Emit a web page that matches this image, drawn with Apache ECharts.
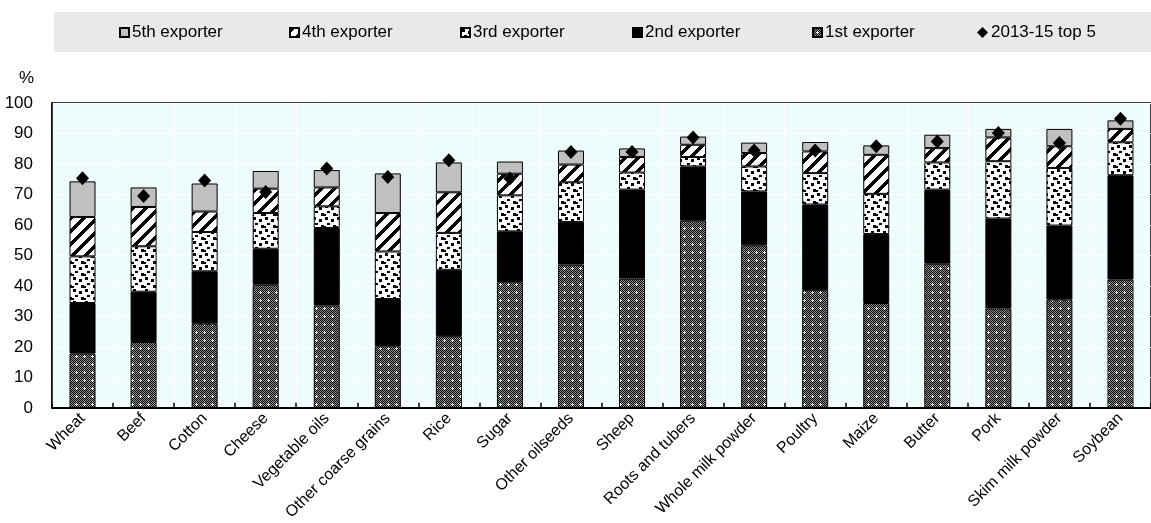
<!DOCTYPE html>
<html>
<head>
<meta charset="utf-8">
<script src="https://cdn.jsdelivr.net/npm/echarts@6/dist/echarts.min.js"></script>
<style>
  html, body { margin: 0; padding: 0; background: #ffffff; }
  #chart { width: 1151px; height: 523px; }
</style>
</head>
<body>
<div id="chart"></div>
<script>
// Commodities, ordered by the share of the top five exporters
const categories = ['Wheat', 'Beef', 'Cotton', 'Cheese', 'Vegetable oils', 'Other coarse grains',
  'Rice', 'Sugar', 'Other oilseeds', 'Sheep', 'Roots and tubers', 'Whole milk powder',
  'Poultry', 'Maize', 'Butter', 'Pork', 'Skim milk powder', 'Soybean'];

// Share of world exports held by each of the five largest exporters (%)
const exporter1 = [17.8, 21.6, 27.6, 40.4, 33.6, 20.2, 23.5, 41.2, 47.0, 42.4, 61.4, 53.3, 38.6, 34.4, 47.3, 32.6, 35.5, 42.1];
const exporter2 = [16.6, 16.5, 17.2, 11.8, 25.4, 15.5, 21.8, 16.7, 14.0, 29.2, 17.8, 17.7, 28.1, 22.6, 24.3, 29.5, 24.3, 34.2];
const exporter3 = [15.3, 14.9, 12.9, 11.7, 7.1, 15.6, 12.1, 11.8, 13.0, 5.6, 3.1, 8.2, 10.3, 13.2, 8.9, 18.8, 18.9, 10.8];
const exporter4 = [12.9, 12.9, 6.7, 8.0, 6.2, 12.6, 13.3, 7.1, 5.8, 5.1, 4.0, 4.4, 7.1, 12.8, 4.7, 7.8, 7.1, 4.4];
const exporter5 = [11.7, 6.4, 9.2, 5.8, 5.7, 13.0, 9.8, 4.0, 4.6, 2.8, 2.7, 3.4, 3.1, 3.1, 4.4, 2.8, 5.7, 2.8];

// Combined share of the top five exporters in 2013-15 (%)
const top5Base = [75.3, 69.5, 74.6, 70.8, 78.5, 75.7, 81.2, 75.2, 83.9, 83.9, 88.7, 84.4, 84.4, 85.8, 87.4, 90.2, 86.9, 94.8];

const yTicks = { min: 0, max: 100, interval: 10 };

const FONT = "'Liberation Sans Narrow', 'Arial Narrow', 'Liberation Sans', Arial, sans-serif";

// Build a small repeating bitmap tile for bar fills
function tile(w, h, painter) {
  const c = document.createElement('canvas');
  c.width = w; c.height = h;
  const ctx = c.getContext('2d');
  const img = ctx.createImageData(w, h);
  for (let y = 0; y < h; y++) {
    for (let x = 0; x < w; x++) {
      const v = painter(x, y);
      const i = (y * w + x) * 4;
      img.data[i] = v; img.data[i + 1] = v; img.data[i + 2] = v; img.data[i + 3] = 255;
    }
  }
  ctx.putImageData(img, 0, 0);
  return { image: c, repeat: 'repeat' };
}

// 1st exporter: dark checkerboard with small white crosses
const checkerFill = tile(8, 8, (x, y) => {
  const cross = (x === 4 && y >= 3 && y <= 5) || (y === 4 && x >= 3 && x <= 5);
  if (cross) return 255;
  return (x + y) % 2 === 0 ? 0 : 150;
});

// 3rd exporter: white with scattered black squares
const squares = [[1, 1, 3, 3], [7, 3, 3, 3], [3, 7, 3, 2], [9, 9, 3, 3], [0, 10, 2, 2]];
const dotFill = tile(12, 12, (x, y) => {
  for (const [sx, sy, sw, sh] of squares) {
    if (x >= sx && x < sx + sw && y >= sy && y < sy + sh) return 0;
  }
  return 255;
});

// 4th exporter: wide black diagonal stripes
const stripeFill = tile(13, 13, (x, y) => ((x + y) % 13 < 5 ? 0 : 255));

const barBorder = { borderColor: '#000000', borderWidth: 1 };

function barSeries(name, data, color) {
  return {
    name: name,
    type: 'bar',
    stack: 'share',
    barWidth: 26,
    data: data,
    itemStyle: Object.assign({ color: color }, barBorder),
    emphasis: { disabled: true },
    z: 2
  };
}

const legendNames = ['5th exporter', '4th exporter', '3rd exporter', '2nd exporter', '1st exporter', '2013-15 top 5'];
const legendLeft = [119, 289, 460, 632, 812, 977];

const legends = legendNames.map((n, i) => ({
  data: [n],
  left: legendLeft[i],
  top: 24,
  padding: 0,
  itemWidth: n === '2013-15 top 5' ? 11 : 9,
  itemHeight: n === '2013-15 top 5' ? 11 : 9,
  itemGap: 0,
  icon: n === '2013-15 top 5' ? 'diamond' : 'rect',
  selectedMode: false,
  textStyle: { fontFamily: FONT, fontSize: 17, color: '#000000', padding: [0, 0, 0, -2] },
  z: 5
}));

const chart = echarts.init(document.getElementById('chart'), null, { renderer: 'canvas' });

chart.setOption({
  animation: false,
  backgroundColor: '#ffffff',
  graphic: [{
    type: 'rect',
    shape: { x: 54, y: 12, width: 1097, height: 40 },
    style: { fill: '#e9e9e9' },
    z: -1,
    silent: true
  }],
  legend: legends,
  grid: {
    left: 52,
    top: 103,
    width: 1105,
    height: 305,
    show: true,
    backgroundColor: '#effcfc',
    borderColor: '#000000',
    borderWidth: 1.5
  },
  xAxis: {
    type: 'category',
    data: categories,
    axisLine: { lineStyle: { color: '#000000', width: 2 } },
    axisTick: { show: true, inside: true, length: 5, lineStyle: { color: '#000000', width: 1.5 } },
    splitLine: { show: true, lineStyle: { color: '#ffffff', width: 1 } },
    axisLabel: {
      interval: 0,
      rotate: 45,
      margin: 8,
      fontFamily: FONT,
      fontSize: 16,
      color: '#000000'
    }
  },
  yAxis: {
    type: 'value',
    min: yTicks.min,
    max: yTicks.max,
    interval: yTicks.interval,
    name: '%',
    nameLocation: 'end',
    nameGap: 16,
    nameTextStyle: { fontFamily: FONT, fontSize: 17, color: '#000000', align: 'right', padding: [0, 18, 0, 0] },
    axisLine: { show: true, lineStyle: { color: '#000000', width: 1.5 } },
    axisTick: { show: false },
    splitLine: { show: true, lineStyle: { color: '#ffffff', width: 1 } },
    axisLabel: { margin: 19, fontFamily: FONT, fontSize: 17, color: '#000000' }
  },
  series: [
    barSeries('1st exporter', exporter1, checkerFill),
    barSeries('2nd exporter', exporter2, '#000000'),
    barSeries('3rd exporter', exporter3, dotFill),
    barSeries('4th exporter', exporter4, stripeFill),
    barSeries('5th exporter', exporter5, '#c0c0c0'),
    {
      name: '2013-15 top 5',
      type: 'scatter',
      data: top5Base,
      symbol: 'diamond',
      symbolSize: [13, 14],
      itemStyle: { color: '#000000', opacity: 1 },
      emphasis: { disabled: true },
      z: 5
    }
  ]
});
</script>
</body>
</html>
